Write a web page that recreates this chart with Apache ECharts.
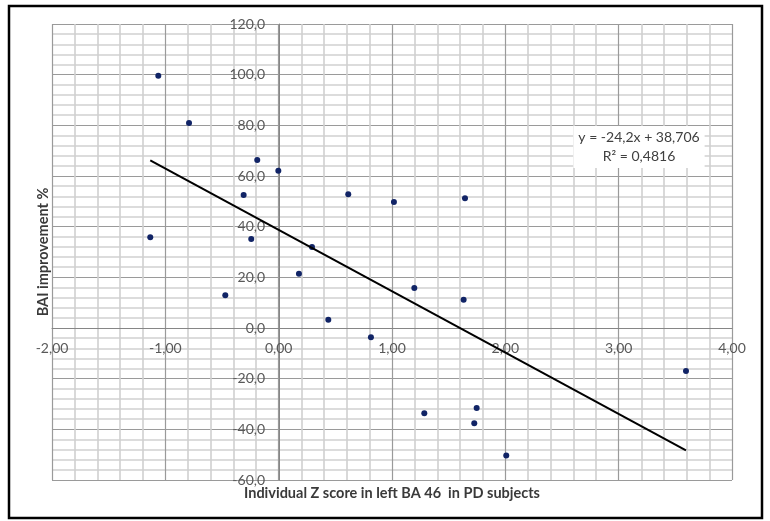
<!DOCTYPE html>
<html><head><meta charset="utf-8">
<script src="https://cdn.jsdelivr.net/npm/echarts@6/dist/echarts.min.js"></script>
<style>html,body{margin:0;padding:0;background:#fff}#c{width:770px;height:521px}</style>
</head><body><div id="c"></div>
<script>
// Data
const zScores = [-1.062, -0.791, -0.189, -0.003, -0.309, 0.614, 1.017, 1.644, -1.133, -0.242, 0.294,
                 0.179, -0.471, 0.438, 0.814, 1.197, 1.632, 3.594, 1.285, 1.747, 1.726, 2.008];
const baiImprovement = [99.6, 80.9, 66.3, 62.1, 52.5, 52.8, 49.7, 51.2, 35.8, 35.1, 32.0,
                        21.4, 12.9, 3.3, -3.7, 15.8, 11.2, -17.0, -33.7, -31.6, -37.6, -50.3];
const trendSlope = -24.2;
const trendIntercept = 38.706;
const trendR2 = '0,4816';
const xTitle = 'Individual Z score in left BA 46  in PD subjects';
const yTitle = 'BAI improvement %';
const eqText = 'y = -24,2x + 38,706';

const points = zScores.map((x, i) => [x, baiImprovement[i]]);
const xMinData = Math.min(...zScores), xMaxData = Math.max(...zScores);
const trend = [[xMinData, trendIntercept + trendSlope * xMinData], [xMaxData, trendIntercept + trendSlope * xMaxData]];

const FONT = 'Lato, "Open Sans", sans-serif';
const GRID = { left: 52, top: 24, right: 38, bottom: 41 };
const chart = echarts.init(document.getElementById('c'));
chart.setOption({
  animation: false,
  backgroundColor: '#fff',
  grid: GRID,
  xAxis: {
    type: 'value', min: -2, max: 4, interval: 1,
    axisLine: { onZero: false, lineStyle: { color: '#868686', width: 1 } },
    axisTick: { show: false },
    axisLabel: { color: '#595959', fontFamily: FONT, fontSize: 14, margin: 13,
      formatter: v => v.toFixed(2).replace('.', ',') },
    splitLine: { show: true, lineStyle: { color: '#9a9a9a', width: 1.2 } },
    minorTick: { show: false, splitNumber: 5 },
    minorSplitLine: { show: true, lineStyle: { color: '#d0d0d0', width: 1.6 } }
  },
  yAxis: {
    type: 'value', min: -60, max: 120, interval: 20,
    axisLine: { onZero: false, lineStyle: { color: '#868686', width: 1 } },
    axisTick: { show: false },
    axisLabel: { color: '#595959', fontFamily: FONT, fontSize: 14, margin: 14,
      formatter: v => v.toFixed(1).replace('.', ',') },
    splitLine: { show: true, lineStyle: { color: '#9a9a9a', width: 1.2 } },
    minorTick: { show: false, splitNumber: 5 },
    minorSplitLine: { show: true, lineStyle: { color: '#d0d0d0', width: 1.6 } }
  },
  series: [
    { type: 'scatter', data: points, symbol: 'circle', symbolSize: 6,
      itemStyle: { color: '#112466', opacity: 1 }, z: 3 },
    { type: 'line', data: trend, symbol: 'none', lineStyle: { color: '#000', width: 2 }, z: 4, silent: true }
  ],
  graphic: [
    { type: 'rect', shape: { x: 9, y: 6, width: 753, height: 512 },
      style: { fill: 'none', stroke: '#000', lineWidth: 2.5 }, z: 10 },
    { type: 'text', x: 392, y: 493, z: 10,
      style: { text: xTitle, fill: '#3a3a3a', font: 'bold 14.5px ' + FONT, align: 'center', verticalAlign: 'middle' } },
    { type: 'text', x: 43, y: 252, rotation: Math.PI / 2, z: 10,
      style: { text: yTitle, fill: '#3a3a3a', font: 'bold 14.5px ' + FONT, align: 'center', verticalAlign: 'middle' } },
    { type: 'text', x: 639, y: 147, z: 10,
      style: { text: eqText + '\nR² = ' + trendR2, fill: '#404040', font: '14px ' + FONT,
        align: 'center', verticalAlign: 'middle', lineHeight: 19,
        backgroundColor: '#fff', padding: [2, 5, 2, 5] } }
  ]
});
// Move both axes (line + labels) to cross at the origin, like the source chart
const origin = chart.convertToPixel({ gridIndex: 0 }, [0, 0]);
const H = chart.getHeight();
chart.setOption({
  xAxis: { offset: origin[1] - (H - GRID.bottom) },
  yAxis: { offset: GRID.left - origin[0] }
});
</script></body></html>
